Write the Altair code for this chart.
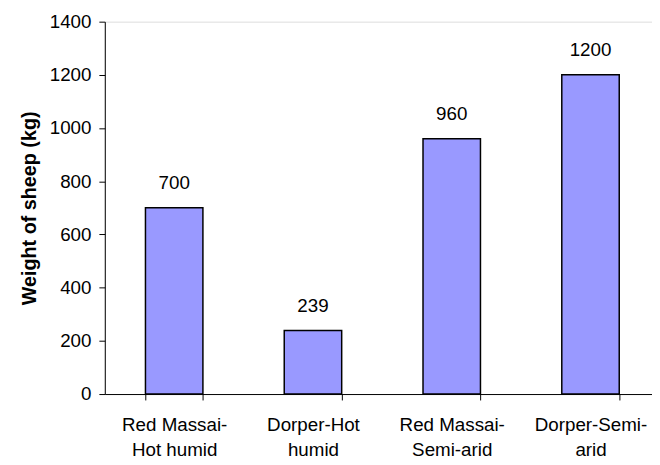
import altair as alt
import pandas as pd

categories = ["Red Massai-\nHot humid", "Dorper-Hot\nhumid", "Red Massai-\nSemi-arid", "Dorper-Semi-\narid"]
weights = [700, 239, 960, 1200]
y_ticks = [0, 200, 400, 600, 800, 1000, 1200, 1400]

df = pd.DataFrame({"group": categories, "weight": weights})

FONT = "Liberation Sans"

x_enc = alt.X(
    "group:N",
    sort=categories,
    scale=alt.Scale(range=[0, 562], paddingInner=0.586, paddingOuter=0.293),
    axis=alt.Axis(
        title=None,
        labelAngle=0,
        labelExpr="split(datum.label, '\\n')",
        labelFont=FONT,
        labelFontSize=19,
        labelColor="black",
        labelLineHeight=25,
        labelPadding=16,
        tickBand="extent",
        tickSize=6,
        tickColor="black",
        domainColor="black",
        labelBaseline="top",
    ),
)

y_enc = alt.Y(
    "weight:Q",
    scale=alt.Scale(domain=[0, 1400], nice=False),
    axis=alt.Axis(
        title="Weight of sheep (kg)",
        titleFont=FONT,
        titleFontSize=20,
        titleFontWeight="bold",
        titleColor="black",
        titlePadding=10,
        values=y_ticks,
        format="d",
        labelFont=FONT,
        labelFontSize=19,
        labelColor="black",
        labelPadding=8,
        tickSize=6,
        tickColor="black",
        domainColor="black",
        grid=False,
    ),
)

bars = alt.Chart(df).mark_bar(
    color="#9999FF", stroke="black", strokeWidth=1.5
).encode(x=x_enc, y=y_enc)

labels = alt.Chart(df).mark_text(
    font=FONT, fontSize=19, color="black", baseline="alphabetic", dy=-19
).encode(x=alt.X("group:N", sort=categories), y="weight:Q", text="weight:Q")

chart = (
    alt.layer(bars, labels)
    .properties(
        width=554,
        height=377,
        autosize=alt.AutoSizeParams(type="none"),
        padding={"left": 98, "top": 11, "right": 0, "bottom": 69},
    )
    .configure_view(stroke=None)
    .configure(background="white")
)

chart.save("out.html", embed_options={"renderer": "svg", "actions": False})
